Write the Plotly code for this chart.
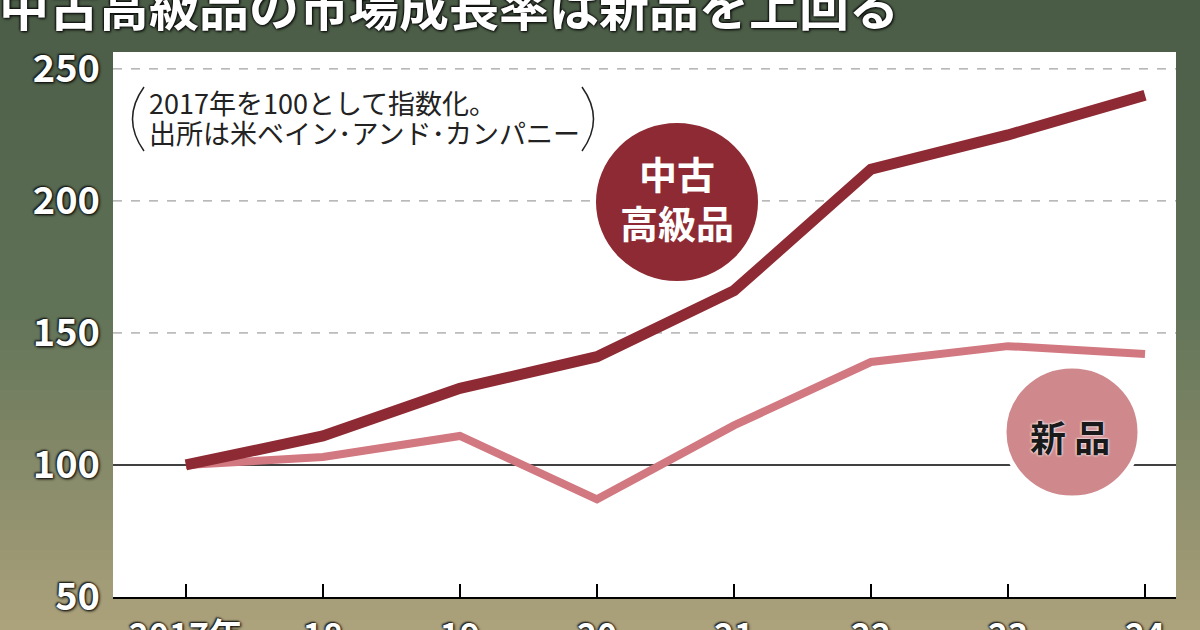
import plotly.graph_objects as go

years = [2017, 2018, 2019, 2020, 2021, 2022, 2023, 2024]
tick_labels = ["2017年", "18", "19", "20", "21", "22", "23", "24"]
used_luxury = [100, 111, 129, 141, 166, 212, 225, 240]
new_luxury = [100, 103, 111, 87, 115, 139, 145, 142]
y_ticks = [50, 100, 150, 200, 250]
grid_values = [150, 200, 250]
base_value = 100

W, H = 1200, 630
L, R, T, B = 113, 24, 52, 33
PW, PH = W - L - R, H - T - B

def px(x):
    return (x - L) / PW

def py(y):
    return (H - B - y) / PH

FONT = "Noto Sans CJK JP"
SHADOW = "0px 0px 2px #111, 1px 1px 3px #000, -1px -1px 2px #111"

fig = go.Figure()
fig.add_trace(go.Scatter(x=years, y=new_luxury, mode="lines",
                         line=dict(color="#d27880", width=8), hoverinfo="skip"))
fig.add_trace(go.Scatter(x=years, y=used_luxury, mode="lines",
                         line=dict(color="#8e2a33", width=11), hoverinfo="skip"))

shapes = []
# background gradient
top = (74, 92, 70)
mid = (98, 116, 88)
bot = (172, 162, 124)
n = 63
for i in range(n):
    t = i / (n - 1)
    if t < 0.5:
        u = t / 0.5
        c = tuple(int(top[k] + (mid[k] - top[k]) * u) for k in range(3))
    else:
        u = (t - 0.5) / 0.5
        c = tuple(int(mid[k] + (bot[k] - mid[k]) * u) for k in range(3))
    y0 = i * H / n
    y1 = (i + 1) * H / n + 1
    shapes.append(dict(type="rect", xref="paper", yref="paper", layer="below",
                       x0=px(0), x1=px(W), y0=py(y1), y1=py(y0),
                       fillcolor="rgb(%d,%d,%d)" % c, line=dict(width=0)))
# white plot panel
shapes.append(dict(type="rect", xref="paper", yref="paper", layer="below",
                   x0=0, x1=1, y0=0, y1=1, fillcolor="white", line=dict(width=0)))
# dashed gridlines
for g in grid_values:
    shapes.append(dict(type="line", xref="paper", yref="y", layer="below",
                       x0=0, x1=1, y0=g, y1=g,
                       line=dict(color="#8a8a8a", width=1, dash="dash")))
# baseline at 100
shapes.append(dict(type="line", xref="paper", yref="y", layer="below",
                   x0=0, x1=1, y0=base_value, y1=base_value,
                   line=dict(color="black", width=1.5)))
# parentheses for the note
shapes.append(dict(type="path", xref="paper", yref="paper", layer="above",
                   path="M %f %f Q %f %f %f %f" % (px(144), py(87), px(121), py(119), px(144), py(151)),
                   line=dict(color="#222", width=1.5)))
shapes.append(dict(type="path", xref="paper", yref="paper", layer="above",
                   path="M %f %f Q %f %f %f %f" % (px(582), py(87), px(605), py(119), px(582), py(151)),
                   line=dict(color="#222", width=1.5)))
# circles
shapes.append(dict(type="circle", xref="paper", yref="paper", layer="above",
                   xsizemode="pixel", ysizemode="pixel",
                   xanchor=px(677), yanchor=py(202), x0=-83, x1=83, y0=-81, y1=81,
                   fillcolor="#8e2a33", line=dict(color="white", width=4)))
shapes.append(dict(type="circle", xref="paper", yref="paper", layer="above",
                   xsizemode="pixel", ysizemode="pixel",
                   xanchor=px(1072), yanchor=py(432), x0=-68, x1=68, y0=-66, y1=66,
                   fillcolor="#cf888c", line=dict(color="white", width=5)))

annotations = [
    dict(text="中古高級品の市場成長率は新品を上回る", xref="paper", yref="paper",
         x=px(-3), y=py(4), xanchor="left", yanchor="middle", showarrow=False,
         font=dict(family=FONT, size=50, color="white", weight="bold", shadow=SHADOW)),
    dict(text="2017年を100として指数化。",
         xref="paper", yref="paper", x=px(147), y=py(103), xanchor="left", yanchor="middle",
         showarrow=False, font=dict(family=FONT, size=27, color="#222")),
    dict(text="出所は米ベイン･アンド･カンパニー",
         xref="paper", yref="paper", x=px(147), y=py(133), xanchor="left", yanchor="middle",
         showarrow=False, font=dict(family=FONT, size=27, color="#222")),
    dict(text="中古<br>高級品", xref="paper", yref="paper", x=px(677), y=py(197),
         xanchor="center", yanchor="middle", showarrow=False,
         font=dict(family=FONT, size=38, color="white", weight="bold")),
    dict(text="新 品", xref="paper", yref="paper", x=px(1070), y=py(436),
         xanchor="center", yanchor="middle", showarrow=False,
         font=dict(family=FONT, size=36, color="#1a1a1a", weight="bold",
                   shadow="0px 0px 3px white, 0px 0px 2px white")),
]

fig.update_layout(
    width=W, height=H,
    margin=dict(l=L, r=R, t=T, b=B, autoexpand=False),
    paper_bgcolor="#6b7a5c",
    plot_bgcolor="rgba(0,0,0,0)",
    showlegend=False,
    shapes=shapes,
    annotations=annotations,
    xaxis=dict(range=[2016.468, 2024.226], tickvals=years, ticktext=tick_labels,
               ticks="inside", ticklen=13, tickcolor="black", tickwidth=1.5,
               showline=True, linecolor="black", linewidth=2, showgrid=False,
               zeroline=False, ticklabelstandoff=8, automargin=False,
               tickfont=dict(family=FONT, size=34, color="white", weight="bold", shadow=SHADOW)),
    yaxis=dict(range=[50, 256.4], tickvals=y_ticks, showgrid=False,
               zeroline=False, showline=False, ticks="", automargin=False,
               ticklabelstandoff=12,
               tickfont=dict(family=FONT, size=38, color="white", weight="bold", shadow=SHADOW)),
)

fig.write_html("out.html", config={"displayModeBar": False},
               post_script="document.body.style.margin='0px';document.body.style.overflow='hidden';")
